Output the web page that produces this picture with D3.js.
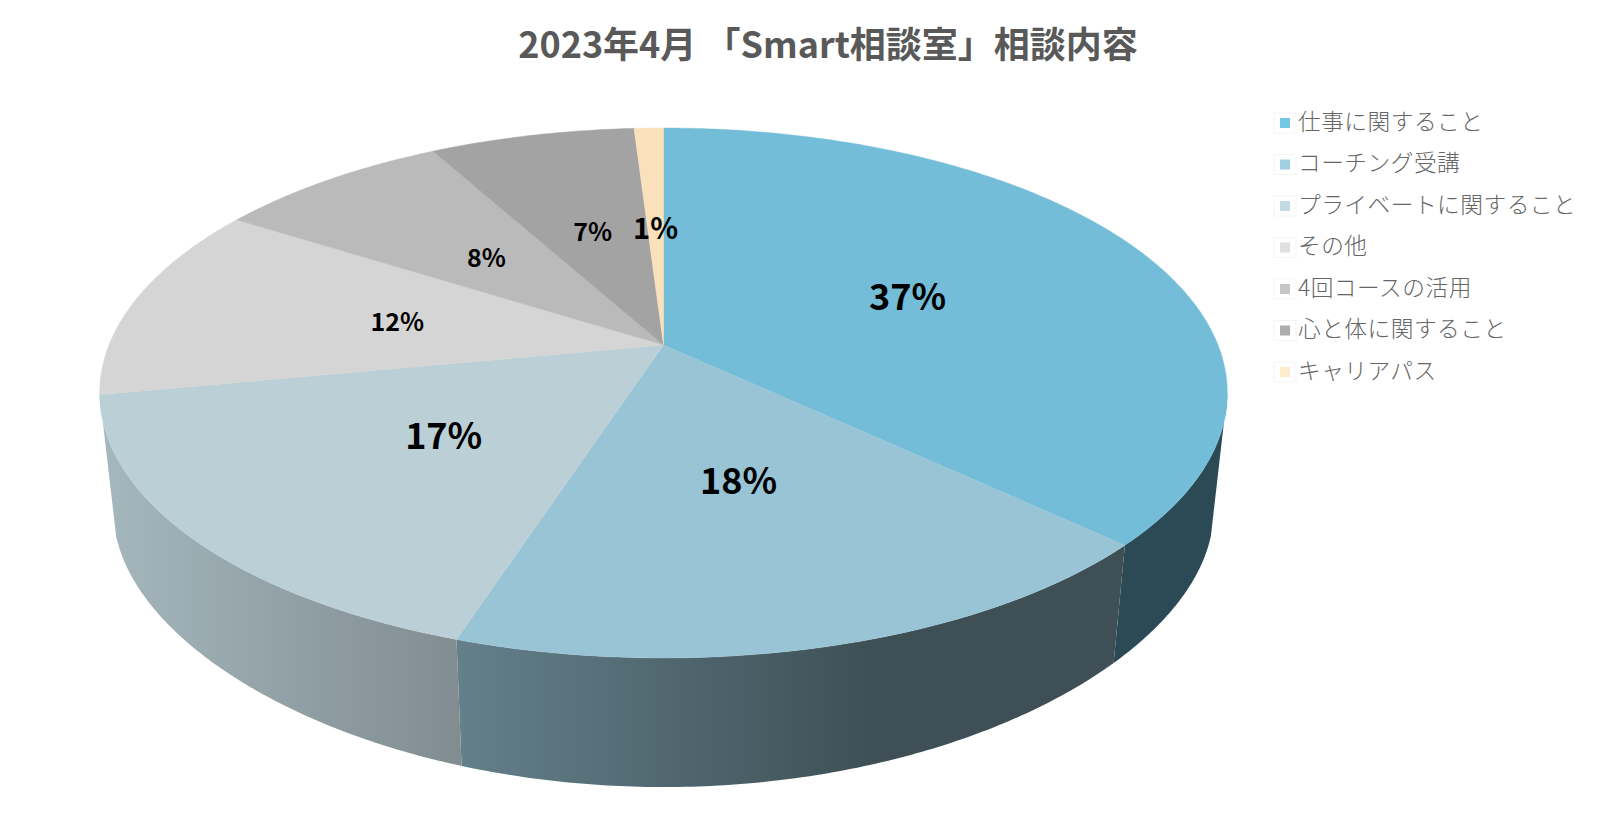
<!DOCTYPE html>
<html>
<head>
<meta charset="utf-8">
<script src="https://cdn.jsdelivr.net/npm/d3@7"></script>
<style>
  html, body { margin: 0; background: #fff; }
  svg { display: block; }
  text { font-family: "Noto Sans CJK JP", "Noto Sans", sans-serif; }
</style>
</head>
<body>
<svg id="chart" width="1600" height="836"></svg>
<script>
const title = "2023年4月 「Smart相談室」相談内容";
const categories = ["仕事に関すること", "コーチング受講", "プライベートに関すること", "その他", "4回コースの活用", "心と体に関すること", "キャリアパス"];
const values = [37, 18, 17, 12, 8, 7, 1];
const topColors = ["#73bdd8", "#99c4d6", "#bbcfd6", "#d5d5d5", "#bababa", "#a3a3a3", "#fbe0bc"];
const legendColors = ["#72c8e4", "#9dd0e2", "#c4dae2", "#e0e0e0", "#c6c6c6", "#adadad", "#fdeccb"];
const labelSizes = [36, 36, 36, 25, 25, 25, 29];
// wall shading, left to right end of each slice
const wallColors = [["#2c4a56", "#2c4a56"], ["#64808b", "#3e5056"], ["#a5b8be", "#808c90"]];

const svg = d3.select("#chart");
const defs = svg.append("defs");

// perspective projection of the pie disc
const centerX = 663.5;
const topFace = { y: 345, a: 256.3, b: 554.5, kx: 0.181, ky: 0.181 };
const lowFace = { y: 466.5, a: 234, b: 541, kx: 0.181, ky: 0.27 };

function project(face, theta, r = 1) {
  const s = Math.sin(theta) * r, c = Math.cos(theta) * r;
  return [centerX + face.b * s / (1 + face.kx * c), face.y - face.a * c / (1 + face.ky * c)];
}

function rim(face, a0, a1) {
  const n = Math.max(2, Math.ceil(Math.abs(a1 - a0) / 0.01));
  return d3.range(n + 1).map(i => project(face, a0 + (a1 - a0) * i / n));
}

const arcs = d3.pie().sort(null).value(d => d)(values);
const line = d3.line();

// the side wall silhouette runs straight between these rim angles
const topWide = Math.PI - Math.acos(topFace.kx), lowWide = Math.PI - Math.acos(0.275);

// side wall first, the top face covers whatever is behind it
arcs.forEach((d, i) => {
  if (!wallColors[i]) return;
  const upper = rim(topFace, Math.max(d.startAngle, topWide), Math.min(d.endAngle, 2 * Math.PI - topWide));
  const lower = rim(lowFace, Math.max(d.startAngle, lowWide), Math.min(d.endAngle, 2 * Math.PI - lowWide)).reverse();
  const pts = upper.concat(lower);
  const xs = d3.extent(pts, p => p[0]);
  // slice 2 keeps its dark colour from about x=870 on
  const grad = defs.append("linearGradient").attr("id", "wall" + i)
    .attr("gradientUnits", "userSpaceOnUse")
    .attr("x1", xs[0]).attr("x2", i === 1 ? xs[0] + 0.62 * (xs[1] - xs[0]) : xs[1])
    .attr("y1", 0).attr("y2", 0);
  grad.append("stop").attr("offset", 0).attr("stop-color", wallColors[i][0]);
  grad.append("stop").attr("offset", 1).attr("stop-color", wallColors[i][1]);
  svg.append("path").attr("d", line(pts) + "Z").attr("fill", `url(#wall${i})`);
});

// top face
arcs.forEach((d, i) => {
  const pts = [[centerX, topFace.y]].concat(rim(topFace, d.startAngle, d.endAngle));
  svg.append("path").attr("d", line(pts) + "Z").attr("fill", topColors[i]).attr("stroke", topColors[i]).attr("stroke-width", 0.4);
});

// percent labels
const total = d3.sum(values);
arcs.forEach((d, i) => {
  const [x, y] = project(topFace, (d.startAngle + d.endAngle) / 2, 0.497);
  svg.append("text").attr("x", x).attr("y", y - 2)
    .attr("text-anchor", "middle").attr("dominant-baseline", "central")
    .attr("font-weight", 700).attr("font-size", labelSizes[i]).attr("fill", "#000")
    .text(d3.format(".0%")(d.data / total));
});

// title
svg.append("text").attr("x", 828).attr("y", 42)
  .attr("text-anchor", "middle").attr("dominant-baseline", "central")
  .attr("font-weight", 700).attr("font-size", 36).attr("fill", "#595959")
  .text(title);

// legend
const legendY = d3.scalePoint().domain(categories).range([123, 372]);
const legend = svg.append("g").selectAll("g").data(categories).join("g")
  .attr("transform", d => `translate(1280,${legendY(d)})`);
legend.append("rect").attr("x", -6).attr("y", -10).attr("width", 22).attr("height", 20)
  .attr("fill", "#fff").attr("stroke", "#f5f5f5");
legend.append("rect").attr("x", 0).attr("y", -5).attr("width", 10).attr("height", 10)
  .attr("fill", (d, i) => legendColors[i]);
legend.append("text").attr("x", 18).attr("y", -3).attr("dominant-baseline", "central")
  .attr("font-size", 22.7).attr("font-weight", 300).attr("fill", "#666")
  .attr("letter-spacing", 0.5)
  .text(d => d);
</script>
</body>
</html>
